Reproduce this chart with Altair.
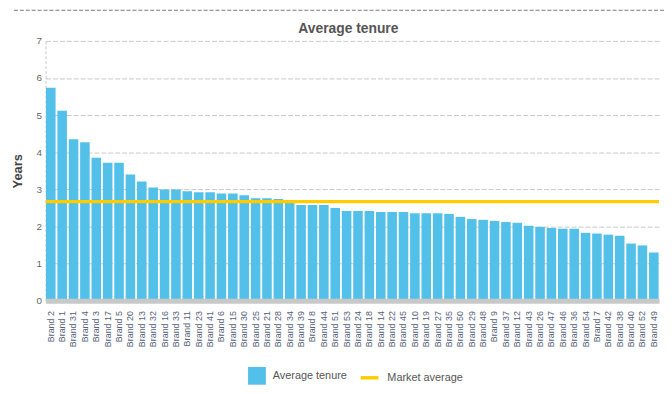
import altair as alt
import pandas as pd

brands = ["Brand 2", "Brand 1", "Brand 31", "Brand 4", "Brand 3", "Brand 17", "Brand 5", "Brand 20",
          "Brand 13", "Brand 32", "Brand 16", "Brand 33", "Brand 11", "Brand 23", "Brand 41", "Brand 6",
          "Brand 15", "Brand 30", "Brand 25", "Brand 21", "Brand 28", "Brand 34", "Brand 39", "Brand 8",
          "Brand 44", "Brand 51", "Brand 53", "Brand 24", "Brand 18", "Brand 14", "Brand 22", "Brand 45",
          "Brand 10", "Brand 19", "Brand 27", "Brand 35", "Brand 50", "Brand 29", "Brand 48", "Brand 9",
          "Brand 37", "Brand 12", "Brand 43", "Brand 26", "Brand 47", "Brand 46", "Brand 36", "Brand 54",
          "Brand 7", "Brand 42", "Brand 38", "Brand 40", "Brand 52", "Brand 49"]
tenure = [5.74, 5.12, 4.35, 4.27, 3.85, 3.72, 3.72, 3.40,
          3.21, 3.05, 3.00, 3.00, 2.95, 2.92, 2.92, 2.89,
          2.89, 2.84, 2.76, 2.76, 2.74, 2.64, 2.58, 2.58,
          2.58, 2.50, 2.42, 2.42, 2.42, 2.39, 2.39, 2.39,
          2.36, 2.36, 2.36, 2.34, 2.26, 2.20, 2.18, 2.15,
          2.12, 2.10, 2.02, 1.99, 1.96, 1.94, 1.94, 1.83,
          1.81, 1.78, 1.75, 1.54, 1.49, 1.30]
market_average = 2.67
y_ticks = [0, 1, 2, 3, 4, 5, 6, 7]

bars_df = pd.DataFrame({"brand": brands, "tenure": tenure, "series": "Average tenure"})
avg_df = pd.DataFrame({"series": ["Market average"], "value": [market_average]})

FONT = "Liberation Sans"
BLUE = "#52C0E8"
YELLOW = "#FFCC00"

yscale = alt.Scale(domain=[0, 7], nice=False)
yaxis = alt.Axis(values=y_ticks, labelOverlap=False, ticks=False,
                 labelFontSize=10, labelColor="#666",
                 labelFont=FONT, labelPadding=4, gridColor="#c8c8c8", gridDash=[5, 2],
                 domainColor="#c8c8c8", domainDash=[3, 2], titleFontSize=13,
                 titleFont=FONT, titleFontWeight="bold", titleColor="#444",
                 titlePadding=12)

bars = alt.Chart(bars_df).mark_bar().encode(
    x=alt.X("brand:N", sort=brands, title=None,
            scale=alt.Scale(paddingInner=0.16, paddingOuter=0.04),
            axis=alt.Axis(labelAngle=-90, labelFontSize=9, labelColor="#56627a", labelFont=FONT,
                          labelPadding=10, ticks=False, domainColor="#c8c8c8", domainWidth=5,
                          zindex=1, labelBaseline="middle")),
    y=alt.Y("tenure:Q", title="Years", scale=yscale, axis=yaxis),
    fill=alt.Fill("series:N", scale=alt.Scale(domain=["Average tenure"], range=[BLUE]),
                  legend=alt.Legend(title=None, orient="none", legendX=205, legendY=330,
                                    symbolType="square", symbolSize=324, symbolStrokeWidth=0,
                                    labelFontSize=11, labelColor="#555", labelFont=FONT,
                                    labelOffset=7, padding=0)),
)

avg = alt.Chart(avg_df).mark_rule(strokeWidth=3.5).encode(
    y=alt.Y("value:Q", title="Years", scale=yscale, axis=yaxis),
    stroke=alt.Stroke("series:N", scale=alt.Scale(domain=["Market average"], range=[YELLOW]),
                      legend=alt.Legend(title=None, orient="none", legendX=317, legendY=330,
                                        symbolType="stroke", symbolSize=324, symbolStrokeWidth=3.5,
                                        labelFontSize=11, labelColor="#555", labelFont=FONT,
                                        labelOffset=7, padding=0)),
)

top_line = alt.Chart(avg_df).mark_rule(color="#777", strokeDash=[4, 2], strokeWidth=1).encode(
    x=alt.value(-32), x2=alt.value(626), y=alt.value(-31)
)

chart = alt.layer(bars, avg, top_line).properties(
    width=621, height=263,
    title=alt.TitleParams("Average tenure", fontSize=14, font=FONT, fontWeight="bold",
                          color="#555", anchor="middle", dx=-4, dy=33, offset=6),
    autosize=alt.AutoSizeParams(type="none"),
    padding={"left": 38, "top": 31, "right": 5, "bottom": 84},
).configure_view(stroke=None)

chart.save("out.html", embed_options={"renderer": "svg", "actions": False})
